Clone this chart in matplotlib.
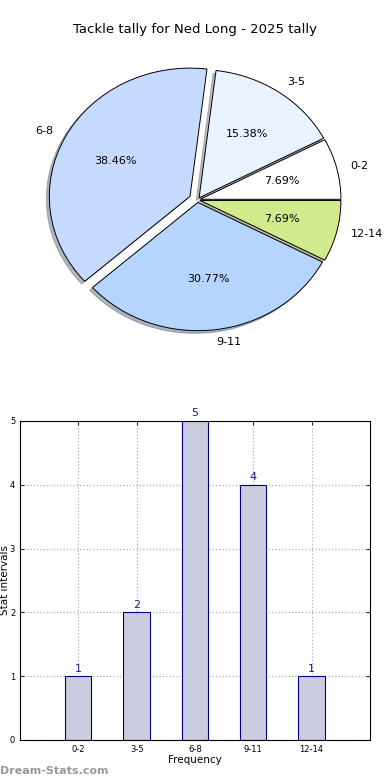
import matplotlib
matplotlib.use("Agg")
import matplotlib.pyplot as plt

categories = ["0-2", "3-5", "6-8", "9-11", "12-14"]
counts = [1, 2, 5, 4, 1]
pie_colors = ["#ffffff", "#eaf1ff", "#c6d9ff", "#b5d5ff", "#d1eb8c"]
explode = [0.02, 0.02, 0.06, 0.02, 0.02]

fig = plt.figure(figsize=(3.9, 7.8), dpi=100)

# pie on top (the original is slightly stretched sideways)
ax1 = fig.add_axes([0.0554, 0.5382, 0.902, 0.411])
ax1.pie(counts, labels=categories, colors=pie_colors, explode=explode,
        autopct="%.2f%%", startangle=0,
        shadow={"ox": -0.015, "oy": -0.015, "shade": 0.5},
        wedgeprops={"edgecolor": "black", "linewidth": 0.7},
        textprops={"fontsize": 8})
ax1.set_aspect("auto")
fig.text(0.5, 1 - 30 / 780, "Tackle tally for Ned Long - 2025 tally",
         fontsize=9.5, ha="center", va="center")

# bar chart below
ax2 = fig.add_axes([0.0513, 0.0513, 0.897, 0.409])
x = list(range(len(categories)))
bars = ax2.bar(x, counts, width=0.45, color="#ccccdf", edgecolor="#000080",
               linewidth=0.8, zorder=2)
for xi, c in zip(x, counts):
    ax2.text(xi, c + 0.04, str(c), ha="center", va="bottom",
             fontsize=8, color="#1a1a8c")
ax2.set_xlim(-1, 5)
ax2.set_ylim(0, 5)
ax2.set_xticks(x)
ax2.set_xticklabels(categories, fontsize=6)
ax2.set_yticks(range(6))
ax2.tick_params(axis="y", labelsize=6)
ax2.tick_params(direction="in", top=True, right=True, length=3, width=0.6)
ax2.grid(True, linestyle=":", color="#b0b0b0", linewidth=0.9, zorder=0)
ax2.set_axisbelow(True)
ax2.set_xlabel("Frequency", fontsize=7.5, labelpad=1)
ax2.set_ylabel("Stat intervals", fontsize=7.5)
ax2.yaxis.set_label_coords(-0.028, 0.5)
for s in ax2.spines.values():
    s.set_linewidth(0.8)

fig.text(0.0, 0.005, "Dream-Stats.com", fontsize=8, color="#999999",
         fontweight="bold", ha="left", va="bottom")

fig.savefig("out.png", dpi=100)
